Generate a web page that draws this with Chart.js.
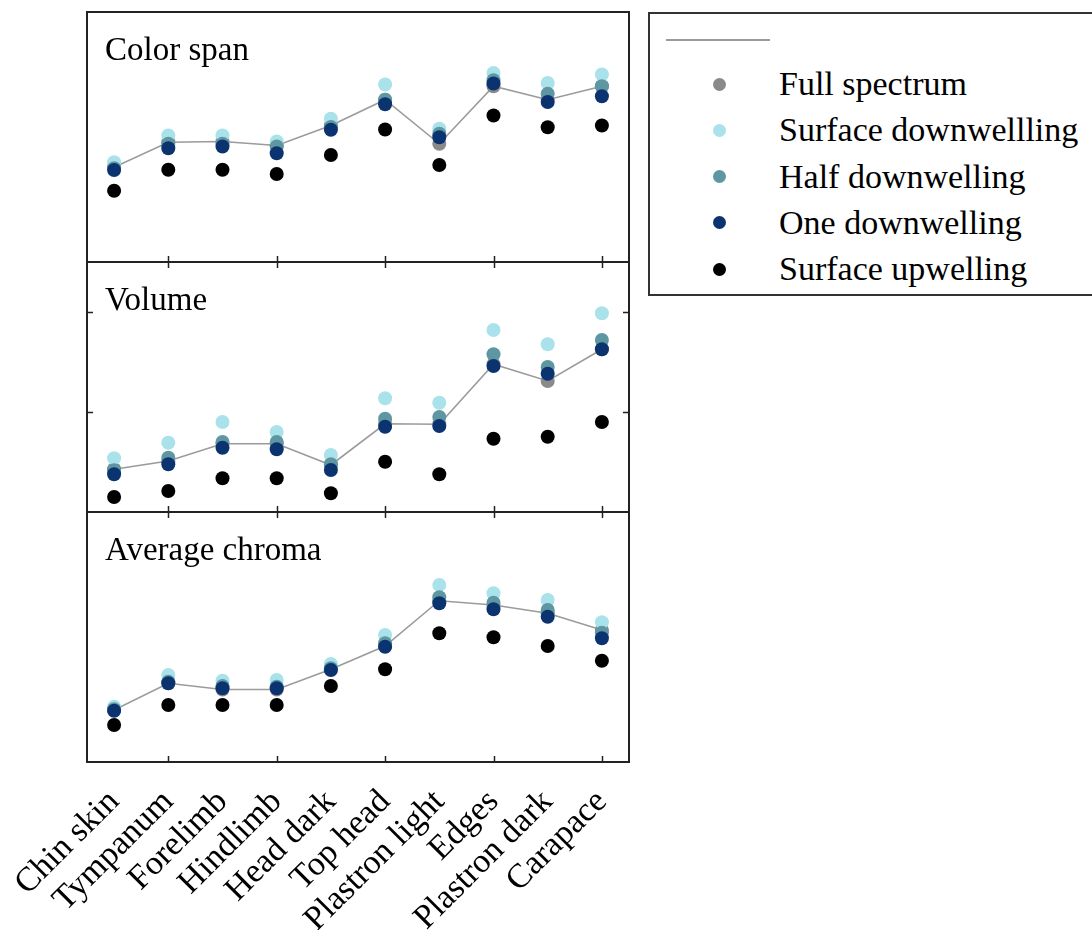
<!DOCTYPE html>
<html>
<head>
<meta charset="utf-8">
<script src="https://cdn.jsdelivr.net/npm/chart.js@4.4.1/dist/chart.umd.min.js"></script>
<style>
html,body{margin:0;padding:0;background:#fff;width:1092px;height:930px;overflow:hidden;font-family:'Liberation Serif',serif;}
#wrap{position:absolute;left:0;top:0;width:644px;height:930px;}
#legend{position:absolute;left:648px;top:12px;width:470px;height:284px;border:2px solid #333;box-sizing:border-box;}
#legend .lline{position:absolute;left:16px;top:25px;width:104px;height:2px;background:#9b9b9b;}
#legend .row{position:absolute;left:0;height:40px;line-height:40px;font-size:34px;color:#000;white-space:nowrap;}
#legend .dot{position:absolute;left:63px;top:13.5px;width:13px;height:13px;border-radius:50%;}
#legend .txt{position:absolute;left:129px;top:0;}
</style>
</head>
<body>
<div id="wrap"><canvas id="c" width="644" height="930"></canvas></div>
<div id="legend"><div class="lline"></div></div>
<script>
'use strict';

var PARTS=['Chin skin','Tympanum','Forelimb','Hindlimb','Head dark','Top head','Plastron light','Edges','Plastron dark','Carapace'];
var SERIES=['Full spectrum','Surface downwellling','Half downwelling','One downwelling','Surface upwelling'];
var COLS=['#8a8a8a','#a9e2ea','#5e97a2','#0b3370','#000000'];

// Color span
var span_full=[37.9,47.9,48.2,46.6,54.6,64.9,47.3,70.3,64.9,70.3];
var span_surf=[39.9,50.6,50.6,48.2,57.3,71.0,53.3,75.6,71.6,75.0];
var span_half=[37.5,47.3,47.3,46.2,54.0,64.9,51.3,72.7,67.3,70.3];
var span_one =[36.8,45.5,46.2,43.5,52.9,63.1,49.9,71.4,64.0,66.3];
var span_up  =[28.5,36.9,36.9,35.2,42.8,53.0,38.8,58.6,53.9,54.6];

// Volume
var vol_full=[17.1,20.4,27.3,27.3,18.8,35.3,35.1,59.1,52.4,65.1];
var vol_surf=[21.5,27.7,36.0,32.0,22.8,45.5,43.7,72.8,67.1,79.5];
var vol_half=[16.7,21.7,28.0,28.0,19.1,37.3,38.0,63.1,58.0,68.8];
var vol_one =[15.1,19.1,25.7,25.1,16.8,34.1,34.4,58.4,55.3,65.1];
var vol_up  =[6.0,8.4,13.5,13.5,7.5,20.1,15.1,29.3,30.1,36.0];

// Average chroma
var chr_full=[20.8,31.5,29.0,29.0,37.1,46.4,64.5,62.8,59.5,52.8];
var chr_surf=[22.1,34.8,32.5,32.8,39.2,50.8,70.8,67.5,64.8,55.9];
var chr_half=[21.1,32.1,30.4,30.1,37.5,47.5,65.9,63.7,60.8,51.7];
var chr_one =[20.5,31.5,29.5,29.5,36.8,46.1,63.5,61.1,58.1,49.5];
var chr_up  =[14.8,22.8,22.8,22.8,30.4,37.1,51.5,49.9,46.4,40.5];

var XTICK_AT=[1,3,5,7,9];
var VOL_YTICKS=[40,80];

var PANELS=[
  {id:'yS',title:'Color span',sets:[span_full,span_surf,span_half,span_one,span_up],yTicks:[]},
  {id:'yV',title:'Volume',sets:[vol_full,vol_surf,vol_half,vol_one,vol_up],yTicks:VOL_YTICKS},
  {id:'yC',title:'Average chroma',sets:[chr_full,chr_surf,chr_half,chr_one,chr_up],yTicks:[]}
];

Chart.defaults.font.family="'Liberation Serif', serif";
Chart.defaults.color='#000';

var datasets=[];
PANELS.forEach(function(p){
  p.sets.forEach(function(vals,k){
    datasets.push({
      label:SERIES[k],data:vals,yAxisID:p.id,order:5-k,
      showLine:k===0,borderColor:k===0?'#9b9b9b':COLS[k],borderWidth:1.6,tension:0,
      backgroundColor:COLS[k],pointBackgroundColor:COLS[k],pointBorderWidth:0,
      pointRadius:7,pointHoverRadius:7
    });
  });
});

function panelAxis(w){
  return {stack:'panels',weight:w,min:0,max:100,display:true,
    grid:{display:false},border:{display:false},ticks:{display:false},
    afterFit:function(s){s.width=87;}};
}

// boxes, inward tick marks and panel titles
var panelFrame={id:'panelFrame',afterDraw:function(chart){
  var c=chart.ctx,a=chart.chartArea,x=chart.scales.x;
  c.save();
  PANELS.forEach(function(p,i){
    var s=chart.scales[p.id];
    c.strokeStyle='#222';c.lineWidth=2;
    c.strokeRect(a.left,s.top,a.right-a.left,s.bottom-s.top);
    c.lineWidth=1.5;c.beginPath();
    XTICK_AT.forEach(function(t){
      var px=Math.round(x.getPixelForValue(t))+0.5;
      c.moveTo(px,s.bottom);c.lineTo(px,s.bottom-6);
      if(i>0){c.moveTo(px,s.top);c.lineTo(px,s.top+6);}
    });
    p.yTicks.forEach(function(v){
      var py=Math.round(s.getPixelForValue(v))+0.5;
      c.moveTo(a.left,py);c.lineTo(a.left+6,py);
      c.moveTo(a.right,py);c.lineTo(a.right-6,py);
    });
    c.stroke();
    c.fillStyle='#000';c.font="33px 'Liberation Serif'";c.textBaseline='alphabetic';c.textAlign='left';
    c.fillText(p.title,a.left+18,s.top+48);
  });
  c.restore();
}};

new Chart(document.getElementById('c'),{
  type:'line',
  data:{labels:PARTS,datasets:datasets},
  options:{
    responsive:false,animation:false,
    layout:{padding:{top:12,right:15,left:0,bottom:0}},
    plugins:{legend:{display:false},tooltip:{enabled:false}},
    scales:{
      x:{type:'category',offset:true,grid:{display:false},border:{display:false},
        ticks:{autoSkip:false,minRotation:45,maxRotation:45,padding:12,color:'#000',font:{size:34}},
        afterFit:function(s){s.height=168;}},
      yS:panelAxis(3),
      yV:panelAxis(2),
      yC:panelAxis(1)
    }
  },
  plugins:[panelFrame]
});

// legend
var lg=document.getElementById('legend');
SERIES.forEach(function(name,k){
  var r=document.createElement('div');r.className='row';
  r.style.top=(50+46.3*k)+'px';
  r.innerHTML='<span class="dot" style="background:'+COLS[k]+'"></span><span class="txt">'+name+'</span>';
  lg.appendChild(r);
});
</script>
</body>
</html>
